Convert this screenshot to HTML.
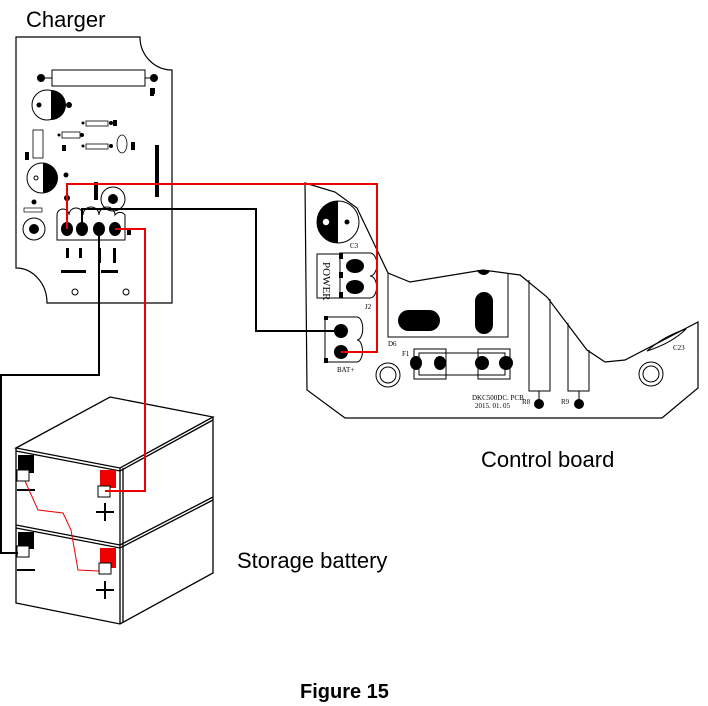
<!DOCTYPE html>
<html><head><style>body{margin:0;background:#fff}svg{display:block}</style></head>
<body>
<svg width="708" height="706" viewBox="0 0 708 706" xmlns="http://www.w3.org/2000/svg" font-family="Liberation Sans, sans-serif">
<!-- Charger board -->
<text x="26" y="27" font-size="22">Charger</text>
<path d="M16,37 H140 A32,33 0 0 0 172,70 V303 H47 A31,35 0 0 0 16,268 Z" fill="none" stroke="#000" stroke-width="1.2"/>
<rect x="52" y="70" width="93" height="16" fill="none" stroke="#000"/>
<circle cx="41" cy="78" r="4"/><circle cx="154" cy="78" r="4"/>
<line x1="45" y1="78" x2="52" y2="78" stroke="#000"/><line x1="145" y1="78" x2="150" y2="78" stroke="#000"/>
<rect x="150" y="88" width="5" height="6"/>
<circle cx="47" cy="105" r="15" fill="#fff" stroke="#000"/><path d="M51,90 A15,15 0 0 1 51,120 Z"/>
<circle cx="39" cy="105" r="2.5"/><circle cx="69" cy="105" r="3"/>
<rect x="86" y="121" width="22" height="5" fill="none" stroke="#000" stroke-width=".8"/><circle cx="83" cy="123" r="1.5"/><circle cx="111" cy="123" r="2"/>
<rect x="62" y="132" width="18" height="6" fill="none" stroke="#000" stroke-width=".8"/><circle cx="59" cy="135" r="1.5"/><circle cx="82" cy="135" r="2"/>
<rect x="86" y="144" width="22" height="5" fill="none" stroke="#000" stroke-width=".8"/><circle cx="83" cy="146" r="1.5"/><circle cx="111" cy="146" r="2"/>
<ellipse cx="122" cy="144" rx="5" ry="9" fill="none" stroke="#000" stroke-width=".8"/>
<rect x="33" y="130" width="10" height="28" fill="none" stroke="#000" stroke-width=".8"/>
<rect x="25" y="152" width="4" height="8"/><rect x="62" y="145" width="4" height="6"/><rect x="113" y="120" width="4" height="6"/><rect x="131" y="142" width="4" height="8"/>
<rect x="155" y="145" width="4" height="52"/><rect x="150" y="90" width="4" height="6"/>
<circle cx="42" cy="178" r="15" fill="#fff" stroke="#000"/><path d="M43,163 A15,15 0 0 1 43,193 Z"/>
<circle cx="36" cy="178" r="2" fill="#fff" stroke="#000"/><circle cx="66" cy="175" r="2.5"/>
<circle cx="67" cy="198" r="3"/><rect x="94" y="182" width="4" height="18"/>
<circle cx="113" cy="199" r="12" fill="none" stroke="#000"/><circle cx="113" cy="199" r="5"/>
<circle cx="34" cy="202" r="2.5"/><rect x="24" y="208" width="18" height="4" fill="none" stroke="#000" stroke-width=".7"/>
<circle cx="34" cy="229" r="11" fill="none" stroke="#000"/><circle cx="34" cy="229" r="5"/>
<path d="M57,240 V215 A6,6 0 0 1 69,215 A7,7 0 0 1 83,215 A8,8 0 0 1 99,215 A8,8 0 0 1 115,215 A6,6 0 0 1 125,215 V240 Z" fill="none" stroke="#000"/>
<ellipse cx="67" cy="229" rx="6" ry="7"/><ellipse cx="82" cy="229" rx="6" ry="7"/><ellipse cx="99" cy="229" rx="6" ry="7"/><ellipse cx="115" cy="229" rx="6" ry="7"/>
<rect x="127" y="230" width="4" height="5"/>
<rect x="66" y="248" width="3" height="10"/><rect x="79" y="248" width="3" height="10"/><rect x="98" y="248" width="3" height="15"/><rect x="113" y="248" width="3" height="15"/>
<rect x="61" y="270" width="25" height="3"/><rect x="101" y="270" width="17" height="3"/>
<circle cx="75" cy="292" r="3" fill="none" stroke="#000"/><circle cx="126" cy="292" r="3" fill="none" stroke="#000"/>

<!-- Control board -->
<path d="M305,183 L335,192 L357,208 L388,273 L410,282 L483,270 L520,275 L547,297 L587,350 L605,362 L625,360 L698,322 V388 L662,418 H345 L307,390 Z" fill="none" stroke="#000" stroke-width="1.2"/>
<circle cx="338" cy="222" r="21" fill="#fff" stroke="#000"/><path d="M338,201 A21,21 0 0 0 338,243 Z"/>
<circle cx="326" cy="222" r="4" fill="#fff" stroke="#000" stroke-width="1.5"/><circle cx="347" cy="222" r="2.5"/>
<text x="350" y="248" font-size="7" font-family="Liberation Serif, serif">C3</text>
<rect x="317" y="254" width="23" height="44" fill="none" stroke="#000"/>
<text transform="translate(323,262) rotate(90)" font-size="11" font-family="Liberation Serif, serif">POWER</text>
<path d="M340,253 H370 A6,10 0 0 1 370,276 A6,10 0 0 1 370,298 H340 Z" fill="none" stroke="#000"/>
<rect x="339" y="253" width="4" height="6"/><rect x="339" y="272" width="4" height="6"/><rect x="339" y="292" width="4" height="6"/>
<ellipse cx="355" cy="266" rx="9" ry="7"/><ellipse cx="355" cy="287" rx="9" ry="7"/>
<text x="365" y="309" font-size="7" font-family="Liberation Serif, serif">J2</text>
<path d="M325,317 H357 A5,10 0 0 1 357,340 A5,10 0 0 1 357,362 H325 Z" fill="none" stroke="#000"/>
<rect x="324" y="316" width="4" height="4"/><rect x="324" y="358" width="4" height="5"/>
<ellipse cx="341" cy="331" rx="7" ry="7"/><ellipse cx="341" cy="352" rx="7" ry="7"/>
<text x="337" y="372" font-size="7" font-family="Liberation Serif, serif">BAT+</text>
<path d="M388,273 V337 H508 V273" fill="none" stroke="#000"/>
<path d="M477,270 A7,7 0 0 0 490,271 Z"/>
<rect x="398" y="310" width="42" height="21" rx="10.5"/>
<rect x="475" y="292" width="18" height="42" rx="9"/>
<text x="388" y="346" font-size="7" font-family="Liberation Serif, serif">D6</text>
<text x="402" y="356" font-size="7" font-family="Liberation Serif, serif">F1</text>
<rect x="414" y="349" width="32" height="30" fill="none" stroke="#000"/><rect x="478" y="349" width="32" height="30" fill="none" stroke="#000"/>
<rect x="419" y="353" width="86" height="22" fill="none" stroke="#000"/>
<ellipse cx="416" cy="363" rx="6" ry="7"/><ellipse cx="440" cy="363" rx="6" ry="7"/><ellipse cx="482" cy="363" rx="7" ry="7"/><ellipse cx="506" cy="363" rx="7" ry="7"/>
<circle cx="388" cy="375" r="12" fill="none" stroke="#000"/><circle cx="388" cy="375" r="8" fill="none" stroke="#000"/>
<circle cx="651" cy="374" r="12" fill="none" stroke="#000"/><circle cx="651" cy="374" r="8" fill="none" stroke="#000"/>
<g stroke="#000" fill="none"><path d="M529,280 V391 H550 V299"/><path d="M568,323 V391 H589 V350"/><line x1="539" y1="391" x2="539" y2="400"/><line x1="579" y1="391" x2="579" y2="400"/>
<path d="M647,351 Q672,343 686,329 Q664,336 647,351 Z" /></g>
<circle cx="539" cy="404" r="5"/><circle cx="579" cy="404" r="5"/>
<text x="522" y="404" font-size="7" font-family="Liberation Serif, serif">R8</text>
<text x="561" y="404" font-size="7" font-family="Liberation Serif, serif">R9</text>
<text x="673" y="350" font-size="7" font-family="Liberation Serif, serif">C23</text>
<text x="472" y="400" font-size="7" font-family="Liberation Serif, serif">DKC500DC. PCB</text>
<text x="475" y="408" font-size="7" font-family="Liberation Serif, serif">2015. 01. 05</text>
<text x="481" y="467" font-size="22">Control board</text>

<!-- Battery -->
<g stroke="#000" stroke-width="1.3" fill="none">
<path d="M16,448 L110,397 L213,417 L120,468 Z"/>
<path d="M16,448 V603 L120,624 L213,573 V417"/>
<path d="M120,468 V624"/><path d="M123,468 V622"/>
<path d="M16,525 L120,545 L213,497"/><path d="M16,528 L120,548 L213,500"/>
<path d="M16,451 L120,471 L213,420"/>
</g>
<rect x="18" y="455" width="16" height="18"/><rect x="17" y="470" width="12" height="11" fill="#fff" stroke="#000"/>
<rect x="100" y="470" width="16" height="18" fill="#e00"/><rect x="98" y="486" width="12" height="11" fill="#fff" stroke="#000"/>
<rect x="18" y="532" width="16" height="17"/><rect x="17" y="546" width="12" height="11" fill="#fff" stroke="#000"/>
<rect x="100" y="548" width="16" height="20" fill="#e00"/><rect x="99" y="563" width="12" height="11" fill="#fff" stroke="#000"/>
<g stroke="#000" stroke-width="2"><line x1="17" y1="490" x2="35" y2="490"/><line x1="96" y1="512" x2="114" y2="512"/><line x1="105" y1="503" x2="105" y2="521"/>
<line x1="17" y1="570" x2="35" y2="570"/><line x1="96" y1="590" x2="114" y2="590"/><line x1="105" y1="581" x2="105" y2="599"/></g>
<path d="M25,481 L38,510 L63,513 L71,530 L78,570 L99,571" fill="none" stroke="#e00" stroke-width="1"/>
<text x="237" y="568" font-size="22">Storage battery</text>
<text x="300" y="698" font-size="20" font-weight="bold">Figure 15</text>

<!-- Wires -->
<g fill="none" stroke-width="2">
<path d="M67,229 V184 H377 V352 H341" stroke="#e00"/>
<path d="M82,229 V209 H256 V331 H341" stroke="#000"/>
<path d="M115,229 H145 V491 H105" stroke="#e00"/>
<path d="M99,229 V375 H1 V553 H18" stroke="#000"/>
</g>
</svg>
</body></html>
